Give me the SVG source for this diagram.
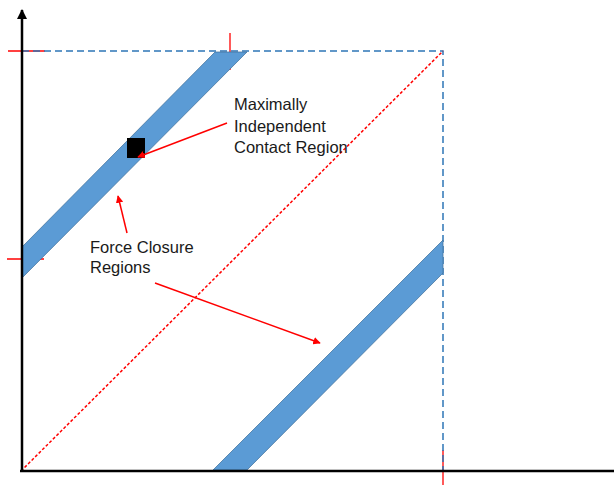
<svg xmlns="http://www.w3.org/2000/svg" width="614" height="485" viewBox="0 0 614 485">
<defs>
<marker id="ah" viewBox="0 0 10 10" refX="9" refY="5" markerWidth="4" markerHeight="4" orient="auto"><path d="M0,0 L10,5 L0,10 z" fill="#000"/></marker>
<marker id="rh" viewBox="0 0 10 10" refX="9" refY="5" markerWidth="5" markerHeight="5" orient="auto"><path d="M0,0 L10,5 L0,10 z" fill="#FF0000"/></marker>
<style>
.band{fill:#5B9BD5;stroke:#41719C;stroke-width:0.75}
.axis{stroke:#000;stroke-width:2.5;fill:none}
.bdash{stroke:#2E75B6;stroke-width:1.5;stroke-dasharray:7 4;fill:none}
.rdash{stroke:#FF0000;stroke-width:1.5;stroke-dasharray:3 2;fill:none}
.tick{stroke:#FF0000;stroke-width:1.3;fill:none}
.rarrow{stroke:#FF0000;stroke-width:1.5;fill:none;marker-end:url(#rh)}
text{font-family:"Liberation Sans",Arial,sans-serif;font-size:16.5px;fill:#1a1a1a}
</style>
</defs>
<g id="ticks">
<line class="tick" x1="8" y1="51" x2="45" y2="51"/>
<line class="tick" x1="7" y1="259" x2="44" y2="259"/>
<line class="tick" x1="230" y1="33" x2="230" y2="70"/>
<line class="tick" x1="443" y1="450" x2="443" y2="485"/>
</g>
<g id="guides">
<path class="bdash" d="M22,51 H443 V470"/>
<line class="rdash" x1="21" y1="471" x2="443" y2="51"/>
</g>
<g id="band-upper"><polygon class="band" points="215,52 247,52 22,278 22,247"/></g>
<g id="band-lower"><polygon class="band" points="213,470 247,470 443,273 443,240"/></g>
<g id="contact-square"><rect x="127" y="138" width="18" height="20" fill="#000"/></g>
<g id="axes">
<line class="axis" x1="22" y1="472" x2="22" y2="10" marker-end="url(#ah)"/>
<line class="axis" x1="20" y1="471" x2="618" y2="471"/>
</g>
<g id="label-contact">
<text x="234" y="110">Maximally</text>
<text x="234" y="132">Independent</text>
<text x="234" y="153">Contact Region</text>
</g>
<g id="label-force">
<text x="90" y="253">Force Closure</text>
<text x="90" y="273">Regions</text>
</g>
<g id="connectors">
<line class="rarrow" x1="227" y1="123" x2="138" y2="157"/>
<line class="rarrow" x1="127" y1="233" x2="118" y2="196"/>
<line class="rarrow" x1="155" y1="283" x2="320" y2="343"/>
</g>
</svg>
